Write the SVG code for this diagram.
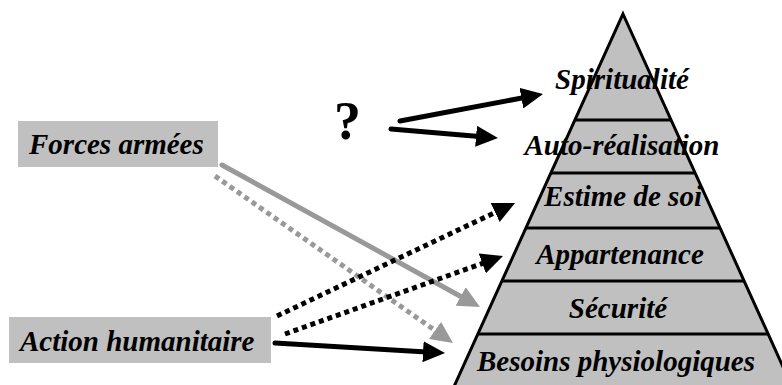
<svg xmlns="http://www.w3.org/2000/svg" width="782" height="385" viewBox="0 0 782 385">
<style>
.lbl{font-family:"Liberation Serif","Times New Roman",serif;font-weight:bold;font-style:italic;font-size:29px;fill:#000}
.box{fill:#c0c0c0;stroke:none}
.band{stroke:#000;stroke-width:3}
.blk{stroke:#000;stroke-width:5;fill:none;stroke-linecap:round}
.blkd{stroke:#000;stroke-width:5;fill:none;stroke-dasharray:5 4}
.gry{stroke:#999;stroke-width:5;fill:none;stroke-linecap:round}
.gryd{stroke:#999;stroke-width:5;fill:none;stroke-dasharray:5 4}
</style>
<defs>
<marker id="ab" viewBox="0 0 22 21" markerWidth="22" markerHeight="21" refX="12" refY="10.5" orient="auto" markerUnits="userSpaceOnUse"><path d="M0,0 L22,10.5 L0,21 z" fill="#000"/></marker>
<marker id="ag" viewBox="0 0 22 21" markerWidth="22" markerHeight="21" refX="12" refY="10.5" orient="auto" markerUnits="userSpaceOnUse"><path d="M0,0 L22,10.5 L0,21 z" fill="#999"/></marker>
</defs>
<rect width="782" height="385" fill="#fff"/>
<g id="pyramid">
<polygon points="623,14 799,402 447,402" fill="#c0c0c0" stroke="#000" stroke-width="3" stroke-linejoin="miter"/>
<line class="band" x1="575" y1="120" x2="671" y2="120"/>
<line class="band" x1="551" y1="173" x2="695" y2="173"/>
<line class="band" x1="526" y1="228" x2="720" y2="228"/>
<line class="band" x1="502" y1="281" x2="744" y2="281"/>
<line class="band" x1="478" y1="334" x2="768" y2="334"/>
</g>
<g id="n-spiritualite"><text class="lbl" x="622" y="89" text-anchor="middle">Spiritualité</text></g>
<g id="n-autorealisation"><text class="lbl" x="622" y="155" text-anchor="middle">Auto-réalisation</text></g>
<g id="n-estime"><text class="lbl" x="623" y="206" text-anchor="middle">Estime de soi</text></g>
<g id="n-appartenance"><text class="lbl" x="620" y="264" text-anchor="middle">Appartenance</text></g>
<g id="n-securite"><text class="lbl" x="618" y="318" text-anchor="middle">Sécurité</text></g>
<g id="n-besoins"><text class="lbl" x="616" y="371" text-anchor="middle">Besoins physiologiques</text></g>
<g id="n-forces">
<rect class="box" x="18" y="121" width="200" height="46"/>
<text class="lbl" x="29" y="154">Forces armées</text>
</g>
<g id="n-action">
<rect class="box" x="9" y="317" width="262" height="46"/>
<text class="lbl" x="20" y="351">Action humanitaire</text>
</g>
<g id="n-question">
<text x="347.5" y="139" text-anchor="middle" style="font-family:'Liberation Serif','Times New Roman',serif;font-weight:bold;font-size:54px">?</text>
</g>
<g id="connectors">
<line class="blk" x1="400" y1="121" x2="533.2" y2="95.9" marker-end="url(#ab)"/>
<line class="blk" x1="391" y1="129" x2="488" y2="137.2" marker-end="url(#ab)"/>
<line class="gry" x1="222" y1="165" x2="471.2" y2="302.2" marker-end="url(#ag)"/>
<line class="gryd" x1="215" y1="176" x2="444.8" y2="337.3" marker-end="url(#ag)"/>
<line class="blkd" x1="277" y1="316" x2="506" y2="207.3" marker-end="url(#ab)"/>
<line class="blkd" x1="285" y1="334" x2="493.6" y2="259.4" marker-end="url(#ab)"/>
<line class="blk" x1="275" y1="343" x2="435" y2="352.4" marker-end="url(#ab)"/>
</g>
</svg>
